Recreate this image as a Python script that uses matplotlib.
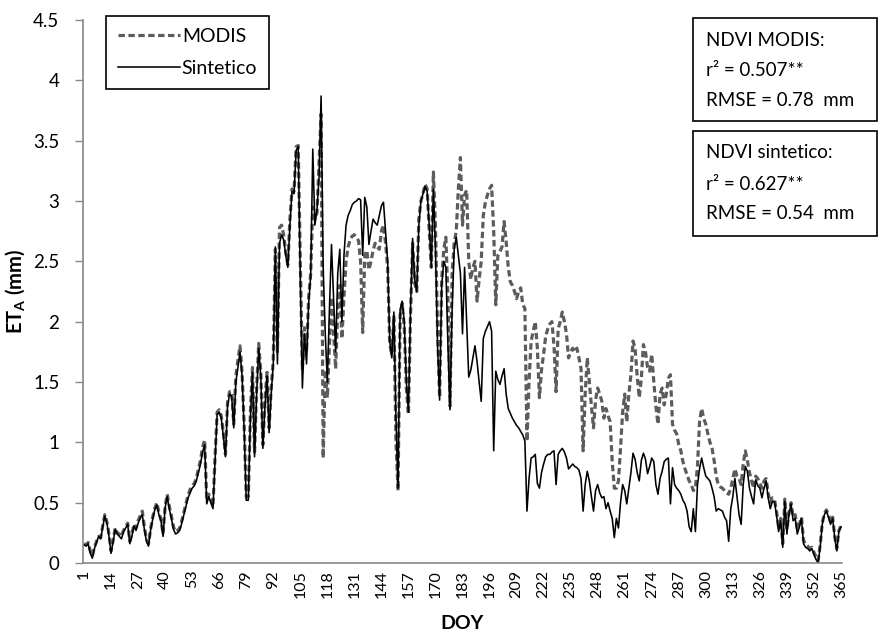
import matplotlib
matplotlib.use("Agg")
import matplotlib.pyplot as plt
from matplotlib.patches import Rectangle

plt.rcParams['font.family'] = ['Lato', 'DejaVu Sans']
plt.rcParams['mathtext.fontset'] = 'custom'
plt.rcParams['mathtext.rm'] = 'Lato'
plt.rcParams['mathtext.bf'] = 'Lato:bold'

# day of year, one value per day
doy = list(range(1, 366))

# ET_A (mm) with NDVI from MODIS
modis = [
    # 1-65
    0.16, 0.15, 0.17, 0.10, 0.06, 0.13, 0.18, 0.22, 0.21, 0.31,
    0.40, 0.34, 0.24, 0.10, 0.19, 0.29, 0.25, 0.24, 0.22, 0.27,
    0.30, 0.33, 0.18, 0.24, 0.32, 0.29, 0.35, 0.39, 0.43, 0.30,
    0.20, 0.16, 0.28, 0.38, 0.45, 0.50, 0.42, 0.36, 0.24, 0.47,
    0.57, 0.47, 0.39, 0.30, 0.26, 0.27, 0.29, 0.35, 0.42, 0.49,
    0.56, 0.61, 0.64, 0.66, 0.70, 0.78, 0.85, 0.96, 1.02, 0.52,
    0.57, 0.52, 0.47, 0.88, 1.25,
    # 66-127
    1.27, 1.22, 1.08, 0.90, 1.33, 1.42, 1.42, 1.15, 1.55, 1.68,
    1.80, 1.58, 1.15, 0.55, 0.55, 1.25, 1.62, 0.92, 1.45, 1.82,
    1.58, 0.98, 1.35, 1.58, 1.12, 1.45, 1.68, 2.60, 1.75, 2.78,
    2.80, 2.72, 2.58, 2.47, 2.85, 3.10, 3.08, 3.45, 3.46, 2.50,
    1.60, 1.95, 1.75, 2.20, 2.40, 2.95, 2.85, 2.90, 3.30, 3.72,
    0.87, 1.60, 1.37, 1.80, 2.20, 1.90, 1.61, 2.10, 2.30, 1.86,
    2.20, 2.50,
    # 128-186
    2.62, 2.68, 2.71, 2.72, 2.70, 2.67, 2.50, 1.91, 2.55, 2.59,
    2.43, 2.50, 2.59, 2.65, 2.62, 2.60, 2.75, 2.80, 2.65, 2.45,
    1.82, 1.72, 2.05, 1.00, 0.60, 2.05, 2.15, 1.95, 1.45, 1.23,
    2.05, 2.65, 2.32, 2.25, 2.85, 3.00, 3.06, 3.14, 3.10, 2.75,
    2.45, 3.24, 2.80, 1.94, 1.37, 2.35, 2.60, 2.70, 2.20, 1.30,
    2.40, 2.65, 2.75, 3.10, 3.36, 2.80, 3.05, 3.09, 2.50,
    # 187-252
    2.35, 2.45, 2.50, 2.17, 2.35, 2.50, 2.88, 2.99, 3.05, 3.10,
    3.13, 2.75, 2.14, 2.55, 2.58, 2.62, 2.83, 2.66, 2.45, 2.33,
    2.30, 2.25, 2.19, 2.25, 2.28, 2.14, 2.11, 1.01, 1.50, 1.84,
    1.92, 2.00, 1.78, 1.37, 1.60, 1.73, 1.88, 1.94, 1.98, 2.00,
    1.80, 1.42, 1.94, 2.00, 2.08, 2.00, 1.90, 1.70, 1.75, 1.78,
    1.75, 1.78, 1.70, 1.61, 0.93, 1.40, 1.70, 1.50, 1.30, 1.12,
    1.35, 1.45, 1.40, 1.34, 1.20, 1.28,
    # 253-315
    1.22, 1.17, 0.84, 0.62, 0.62, 0.68, 0.95, 1.25, 1.40, 1.17,
    1.40, 1.56, 1.84, 1.78, 1.55, 1.37, 1.53, 1.81, 1.75, 1.62,
    1.59, 1.73, 1.50, 1.30, 1.15, 1.40, 1.45, 1.31, 1.40, 1.53,
    1.56, 1.15, 1.10, 1.07, 0.98, 0.93, 0.84, 0.78, 0.73, 0.68,
    0.65, 0.60, 0.62, 0.80, 1.17, 1.28, 1.20, 1.15, 1.07, 1.00,
    0.95, 0.85, 0.72, 0.65, 0.63, 0.62, 0.60, 0.58, 0.57, 0.62,
    0.70, 0.78, 0.72,
    # 316-365
    0.70, 0.65, 0.82, 0.93, 0.85, 0.75, 0.68, 0.62, 0.72, 0.70,
    0.66, 0.62, 0.68, 0.70, 0.58, 0.50, 0.54, 0.53, 0.43, 0.30,
    0.37, 0.16, 0.53, 0.28, 0.42, 0.50, 0.38, 0.40, 0.28, 0.32,
    0.38, 0.19, 0.15, 0.14, 0.12, 0.13, 0.09, 0.05, 0.02, 0.15,
    0.33, 0.41, 0.44, 0.40, 0.34, 0.38, 0.22, 0.12, 0.27, 0.31,
]

# ET_A (mm) with synthetic NDVI
sintetico = [
    # 1-65
    0.15, 0.14, 0.16, 0.08, 0.04, 0.12, 0.17, 0.22, 0.20, 0.30,
    0.39, 0.33, 0.22, 0.08, 0.18, 0.28, 0.24, 0.22, 0.20, 0.26,
    0.29, 0.32, 0.16, 0.22, 0.31, 0.27, 0.33, 0.37, 0.40, 0.28,
    0.18, 0.14, 0.27, 0.36, 0.44, 0.48, 0.40, 0.35, 0.22, 0.46,
    0.55, 0.45, 0.37, 0.28, 0.24, 0.25, 0.27, 0.33, 0.40, 0.47,
    0.54, 0.58, 0.62, 0.64, 0.68, 0.75, 0.82, 0.92, 0.98, 0.49,
    0.55, 0.50, 0.45, 0.85, 1.23,
    # 66-127
    1.25, 1.20, 1.05, 0.88, 1.30, 1.40, 1.38, 1.12, 1.50, 1.62,
    1.75, 1.55, 1.10, 0.52, 0.52, 1.20, 1.58, 0.88, 1.40, 1.78,
    1.55, 0.95, 1.30, 1.55, 1.08, 1.40, 1.65, 2.62, 1.65, 2.65,
    2.72, 2.68, 2.55, 2.45, 2.80, 3.08, 3.06, 3.42, 3.45, 2.35,
    1.45, 1.90, 1.65, 2.15, 2.38, 3.43, 2.80, 2.92, 3.20, 3.87,
    2.45, 1.90, 1.50, 2.10, 2.64, 2.20, 1.75, 2.40, 2.60, 2.00,
    2.55, 2.80,
    # 128-186
    2.88, 2.92, 2.97, 2.99, 3.00, 3.02, 3.01, 2.55, 3.03, 2.95,
    2.64, 2.75, 2.85, 2.82, 2.80, 2.88, 2.96, 2.99, 2.75, 2.50,
    1.84, 1.70, 2.08, 1.20, 0.62, 2.10, 2.17, 2.00, 1.50, 1.25,
    2.10, 2.69, 2.35, 2.25, 2.80, 3.00, 3.06, 3.12, 3.08, 2.80,
    2.45, 3.10, 2.60, 1.80, 1.35, 2.30, 2.50, 2.45, 1.80, 1.27,
    2.10, 2.60, 2.70, 2.55, 2.40, 1.90, 2.45, 2.00, 1.54,
    # 187-252
    1.60, 1.70, 1.80, 1.67, 1.50, 1.34, 1.86, 1.92, 1.96, 2.00,
    1.92, 0.93, 1.59, 1.52, 1.48, 1.55, 1.61, 1.40, 1.28, 1.24,
    1.20, 1.17, 1.14, 1.12, 1.09, 1.06, 1.01, 0.43, 0.70, 0.87,
    0.88, 0.90, 0.66, 0.62, 0.75, 0.82, 0.88, 0.90, 0.90, 0.92,
    0.93, 0.65, 0.90, 0.93, 0.95, 0.92, 0.87, 0.78, 0.80, 0.82,
    0.80, 0.79, 0.77, 0.70, 0.43, 0.65, 0.76, 0.68, 0.55, 0.43,
    0.60, 0.65, 0.58, 0.54, 0.55, 0.45,
    # 253-315
    0.50, 0.43, 0.37, 0.21, 0.37, 0.29, 0.50, 0.65, 0.60, 0.49,
    0.62, 0.75, 0.91, 0.86, 0.75, 0.68, 0.85, 0.91, 0.86, 0.74,
    0.80, 0.87, 0.84, 0.65, 0.57, 0.70, 0.76, 0.84, 0.86, 0.87,
    0.49, 0.79, 0.65, 0.62, 0.60, 0.57, 0.52, 0.49, 0.43, 0.30,
    0.26, 0.45, 0.26, 0.65, 0.78, 0.87, 0.79, 0.72, 0.70, 0.68,
    0.62, 0.55, 0.43, 0.45, 0.44, 0.43, 0.38, 0.35, 0.18, 0.45,
    0.55, 0.70, 0.55,
    # 316-365
    0.40, 0.32, 0.65, 0.80, 0.76, 0.62, 0.55, 0.49, 0.69, 0.64,
    0.62, 0.54, 0.62, 0.68, 0.54, 0.45, 0.51, 0.51, 0.40, 0.26,
    0.35, 0.13, 0.51, 0.24, 0.40, 0.49, 0.35, 0.37, 0.24, 0.30,
    0.37, 0.16, 0.13, 0.12, 0.10, 0.12, 0.07, 0.03, 0.00, 0.13,
    0.32, 0.40, 0.43, 0.38, 0.32, 0.37, 0.21, 0.10, 0.26, 0.30,
]

xtick_days = list(range(1, 366, 13))
ytick_vals = [0, 0.5, 1, 1.5, 2, 2.5, 3, 3.5, 4, 4.5]

modis_stats = ["NDVI MODIS:", "r\u00b2 = 0.507**", "RMSE = 0.78  mm"]
sint_stats = ["NDVI sintetico:", "r\u00b2 = 0.627**", "RMSE = 0.54  mm"]

W, H = 883, 639
fig = plt.figure(figsize=(W / 100, H / 100), dpi=100)
ax = fig.add_axes([83 / W, 1 - 563 / H, (842 - 83) / W, (563 - 20) / H])

ax.plot(doy, modis, color='#5c5c5c', lw=2.3, ls=(0, (2.0, 1.1)), label='MODIS')
ax.plot(doy, sintetico, color='black', lw=1.15, label='Sintetico')

ax.set_xlim(0.5, 365.5)
ax.set_ylim(0, 4.5)
ax.set_xticks(xtick_days)
ax.set_xticklabels([str(d) for d in xtick_days], rotation=90, fontsize=11.5)
ax.set_yticks(ytick_vals)
ax.set_yticklabels(['%g' % v for v in ytick_vals], fontsize=13.5)
ax.tick_params(axis='x', length=0, pad=5)
ax.tick_params(axis='y', length=6, width=1, color='#888888', pad=11)

for s in ['top', 'right']:
    ax.spines[s].set_visible(False)
for s in ['left', 'bottom']:
    ax.spines[s].set_color('#888888')
    ax.spines[s].set_linewidth(1.2)

ax.set_xlabel('DOY', fontsize=14, fontweight='bold', labelpad=12)
ax.set_ylabel(r'$\mathbf{ET_A}$ (mm)', fontsize=14.5, fontweight='bold', labelpad=4)

leg = ax.legend(loc='upper left', bbox_to_anchor=(106 / W, 1 - 16 / H),
                bbox_transform=fig.transFigure, borderaxespad=0,
                fontsize=14, handlelength=3.2, handletextpad=0.1,
                labelspacing=0.8, borderpad=0.6, fancybox=False,
                framealpha=1, edgecolor='black')
leg.get_frame().set_linewidth(1.2)


def stat_box(top, bottom, lines, ys):
    rect = Rectangle((693 / W, 1 - bottom / H), (877 - 693) / W, (bottom - top) / H,
                     transform=fig.transFigure, facecolor='white',
                     edgecolor='black', lw=1.2)
    fig.add_artist(rect)
    for txt, y in zip(lines, ys):
        fig.text(706 / W, 1 - y / H, txt, fontsize=13.5, va='center', ha='left')


stat_box(18, 121, modis_stats, [40, 71, 101])
stat_box(131, 236, sint_stats, [153, 185, 214])

fig.savefig('out.png', dpi=100)
